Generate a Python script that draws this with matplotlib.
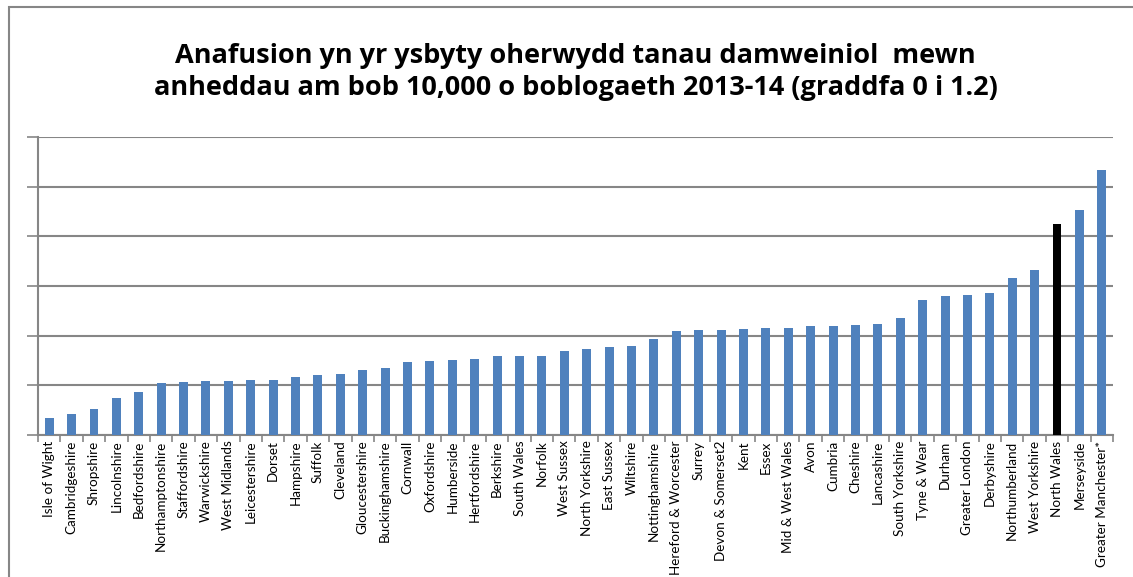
import matplotlib.pyplot as plt
import matplotlib.patches as mpatches
import numpy as np

# areas, sorted by rate
areas = ['Isle of Wight', 'Cambridgeshire', 'Shropshire', 'Lincolnshire', 'Bedfordshire',
         'Northamptonshire', 'Staffordshire', 'Warwickshire', 'West Midlands', 'Leicestershire',
         'Dorset', 'Hampshire', 'Suffolk', 'Cleveland', 'Gloucestershire', 'Buckinghamshire',
         'Cornwall', 'Oxfordshire', 'Humberside', 'Hertfordshire', 'Berkshire', 'South Wales',
         'Norfolk', 'West Sussex', 'North Yorkshire', 'East Sussex', 'Wiltshire',
         'Nottinghamshire', 'Hereford & Worcester', 'Surrey', 'Devon & Somerset2', 'Kent',
         'Essex', 'Mid & West Wales', 'Avon', 'Cumbria', 'Cheshire', 'Lancashire',
         'South Yorkshire', 'Tyne & Wear', 'Durham', 'Greater London', 'Derbyshire',
         'Northumberland', 'West Yorkshire', 'North Wales', 'Merseyside', 'Greater Manchester*']
rates = [0.070, 0.085, 0.103, 0.149, 0.172, 0.209, 0.214, 0.216, 0.216, 0.220,
         0.223, 0.233, 0.241, 0.247, 0.262, 0.270, 0.293, 0.298, 0.302, 0.305,
         0.317, 0.319, 0.319, 0.338, 0.345, 0.354, 0.358, 0.386, 0.420, 0.423,
         0.424, 0.428, 0.432, 0.432, 0.437, 0.440, 0.443, 0.448, 0.470, 0.545,
         0.561, 0.563, 0.573, 0.633, 0.664, 0.850, 0.907, 1.066]
highlight = 'North Wales'

plt.rcParams['font.family'] = ['Lato', 'DejaVu Sans']

fig = plt.figure(figsize=(11.33, 5.77), dpi=100)
ax = fig.add_axes([38/1133, 142/577, 1075/1133, 298/577])

x = np.arange(len(areas))
cols = ['#000000' if a == highlight else '#4F81BD' for a in areas]
ax.bar(x, rates, width=0.4, color=cols, zorder=3)

ax.set_xlim(-0.5, len(areas) - 0.5)
ax.set_ylim(0, 1.2)
ax.set_yticks(np.arange(0, 1.21, 0.2))
ax.set_yticklabels([])
ax.yaxis.grid(True, color='#868686', linewidth=1.5, zorder=0)
ax.tick_params(axis='y', length=8, width=1.2, color='#868686', direction='out')

ax.set_xticks(x)
ax.set_xticklabels(areas, rotation=90, fontsize=9.7, va='top')
ax.set_xticks(np.arange(-0.5, len(areas), 1), minor=True)
ax.tick_params(axis='x', which='major', length=0, pad=4)
ax.tick_params(axis='x', which='minor', length=5, width=1.2, color='#868686', direction='out')

for s in ['top', 'right']:
    ax.spines[s].set_visible(False)
for s in ['left', 'bottom']:
    ax.spines[s].set_color('#868686')
    ax.spines[s].set_linewidth(1.5)

fig.text(0.508, 1 - 72/577,
         'Anafusion yn yr ysbyty oherwydd tanau damweiniol  mewn\n'
         'anheddau am bob 10,000 o boblogaeth 2013-14 (graddfa 0 i 1.2)',
         ha='center', va='center', fontsize=19.5, fontweight='bold', linespacing=1.32,
         family=['Open Sans', 'DejaVu Sans'])

# chart frame
fig.patches.append(mpatches.Rectangle((9/1133, -0.05), 1.1, 1 - 6.5/577 + 0.05,
                                      transform=fig.transFigure, fill=False,
                                      edgecolor='#868686', linewidth=1.5))

fig.savefig('out.png', dpi=100)
